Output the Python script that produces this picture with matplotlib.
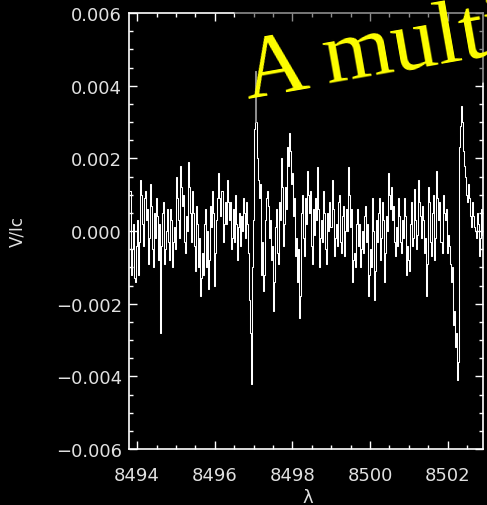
import numpy as np
import matplotlib
matplotlib.use("Agg")
import matplotlib.pyplot as plt
from matplotlib.patches import Polygon
from matplotlib.ticker import MultipleLocator

# Stokes V/Ic profile (units of 1e-3), one value every ~0.026 A
lam_start = 8493.82
lam_step = 0.026
v_ic = [
    1.1, -1.2, -0.5, 0.2, -1.3, -1.4, -0.4, 0.3, -1.2, -0.3, 1.4, 1.0, 0.2, -0.4, 0.9, 1.1, 0.3, 0.6, -0.9, -0.2,
    1.3, 0.7, -0.5, -1.0, 0.5, -0.2, 0.9, 0.4, -0.8, 0.2, -2.8, -0.4, 0.5, 0.8, -0.9, -0.5, 0.0, 0.6, -0.3, -0.8,
    0.6, 0.3, -1.0, -0.3, 0.1, -0.5, 1.5, 0.9, 0.3, -0.2, 1.8, 1.2, 0.7, 1.0, -0.3, -0.6, 0.4, 0.0, 1.9, 1.2,
    0.5, -0.3, 1.1, 0.5, -0.4, -1.1, 0.7, 0.2, -1.0, -0.2, -1.8, -1.3, -0.6, -1.2, 0.2, 0.6, -1.0, 0.0, -1.6, -0.8,
    0.7, 0.1, 1.1, 0.5, -1.5, -0.6, 0.3, 0.9, 1.6, 0.9, 0.4, 1.1, -0.3, 0.2, 0.8, 0.2, 1.4, 0.8, 0.3, 0.8,
    -0.5, -0.2, 0.6, -0.3, 1.0, 0.2, -0.8, 0.1, 0.5, -0.4, 0.4, 0.0, 0.9, 0.5, -0.2, 0.8, 0.2, -0.6, -1.9, -2.8,
    -4.2, -1.0, 0.3, 2.8, 4.4, 3.0, 2.0, 1.4, 0.9, 1.3, -1.2, -0.3, -1.65, -1.2, 0.3, 0.9, 1.1, 0.7, -0.2, 0.3,
    -0.8, -0.4, -2.2, -1.4, 0.1, 0.6, -0.6, -0.9, 0.8, 0.3, 2.0, 1.2, -0.4, 0.2, 1.2, 0.6, 2.3, 1.8, 2.7, 2.2,
    1.3, 1.6, 0.4, 0.9, -0.7, -0.2, -1.4, -0.5, -2.4, -1.8, 0.5, 1.0, -0.2, -0.7, 0.9, 0.2, 1.65, 1.0, 0.5, 1.1,
    -0.4, -0.9, 0.6, -0.1, 0.9, 0.3, 1.75, 0.6, -1.0, -0.2, 0.3, -0.3, 1.1, 0.5, -0.5, -0.9, 0.5, 0.0, 0.8, 0.1,
    1.4, 0.6, -0.7, -0.2, 0.2, -0.4, 0.8, 1.0, -0.3, -0.6, 0.4, 0.7, -0.7, 0.0, 0.6, 0.0, 1.75, 1.0, 0.1, 0.6,
    -1.4, -0.8, -0.6, -1.0, 0.2, 0.6, -0.4, 0.2, -1.0, -0.5, 0.0, -0.6, 0.4, 0.7, -0.3, 0.2, -1.8, -1.2, -0.5, -1.0,
    0.9, 0.0, -1.9, -1.1, 0.3, -0.3, 0.5, 0.9, -0.8, -0.2, 0.8, 0.3, -1.4, -0.6, 0.4, 0.0, 1.6, 1.0, 0.6, 1.2,
    0.3, 0.7, -0.3, -0.7, 0.1, -0.4, 0.9, 0.4, -0.3, -0.6, 0.3, -0.2, 0.9, 0.4, -1.2, -0.4, -0.8, -1.1, 0.2, 0.8,
    -0.4, -0.2, 1.15, 0.3, -0.5, -0.1, 1.4, 0.8, 0.4, -0.2, 0.7, 0.3, -0.6, -0.2, -1.8, -0.9, 1.2, 0.8, -0.3, -0.7,
    0.5, 1.0, -0.8, -0.2, 1.65, 0.9, 0.3, 0.8, -0.3, -0.6, 1.0, 0.5, 0.3, 0.6, -0.6, -0.1, -0.4, -0.9, -1.4, -1.0,
    -2.6, -2.2, -3.2, -2.8, -4.1, -3.6, 2.3, 2.9, 3.45, 3.0, 2.2, 1.8, 1.5, 1.0, 0.8, 1.3, 0.9, 0.4, 0.1, 0.8,
    0.4, 0.1, 0.0, -0.2, 0.5, 0.2, -0.7, -0.2, 0.6, -0.1, -0.55, -0.3, 0.0,
]
x_ticks = [8494, 8496, 8498, 8500, 8502]
y_ticks = [-0.006, -0.004, -0.002, 0.000, 0.002, 0.004, 0.006]

lam = lam_start + lam_step * np.arange(len(v_ic))
v = np.array(v_ic) * 1e-3

W, H = 487, 506
fig = plt.figure(figsize=(W / 100, H / 100), dpi=100, facecolor="black")
ax = fig.add_axes([129 / W, 1 - 450 / H, 354 / W, 436 / H], facecolor="black")

ax.plot(lam, v, color="white", lw=0.75, drawstyle="steps-mid")
ax.set_xlim(8493.79, 8502.91)
ax.set_ylim(-0.006, 0.006)

ax.set_xticks(x_ticks)
ax.set_xticklabels([str(t) for t in x_ticks])
ax.set_yticks(y_ticks)
ax.set_yticklabels(["%.3f" % t if t >= 0 else "\u2212%.3f" % -t for t in y_ticks])
ax.xaxis.set_minor_locator(MultipleLocator(0.5))
ax.yaxis.set_minor_locator(MultipleLocator(0.0005))

for s in ax.spines.values():
    s.set_color("white")
    s.set_linewidth(1.2)
ax.tick_params(which="both", direction="in", top=True, right=True,
               colors="white", width=1.0)
ax.tick_params(which="major", length=5.5)
ax.tick_params(which="minor", length=3)
ax.tick_params(axis="y", pad=5, labelsize=13, labelcolor="#e0e0e0")
ax.tick_params(axis="x", pad=12, labelsize=13, labelcolor="#e0e0e0")

ax.set_ylabel("V/Ic", color="#e0e0e0", fontsize=12, va="center")
ax.yaxis.set_label_coords(-0.314, 0.5)
ax.set_xlabel("\u03bb", color="#e0e0e0", fontsize=13, va="center")
ax.xaxis.set_label_coords(0.506, -0.11)

# translucent slide text box laid over the top of the plot
ang = np.radians(10)
def px(x, y):
    return (x / W, 1 - y / H)
x0, y0 = 254, 124
along = (np.cos(ang), -np.sin(ang))
up = (-np.sin(ang), -np.cos(ang))
corners = [
    px(x0, y0),
    px(x0 + 700 * along[0], y0 + 700 * along[1]),
    px(x0 + 700 * along[0] + 400 * up[0], y0 + 700 * along[1] + 400 * up[1]),
    px(x0 + 400 * up[0], y0 + 400 * up[1]),
]
box = Polygon(corners, closed=True, transform=fig.transFigure,
              facecolor="black", edgecolor="none", alpha=0.45, zorder=5)
fig.patches.append(box)

fig.text(248 / W, 1 - 98 / H, "A multi", color="yellow", fontsize=64,
         family="Liberation Serif", rotation=10, rotation_mode="anchor",
         ha="left", va="baseline", zorder=6)

fig.savefig("out.png", dpi=100, facecolor="black")
